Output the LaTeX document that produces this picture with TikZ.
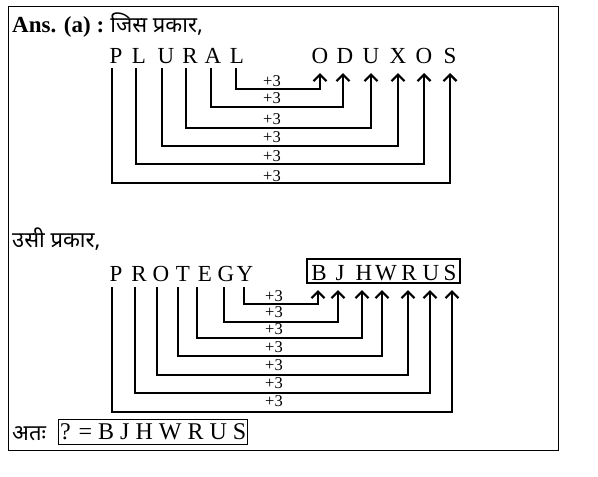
\documentclass[tikz,border=0pt]{standalone}
\usepackage{fontspec}
\setmainfont{Liberation Serif}
\newfontfamily\deva[Script=Devanagari]{Noto Sans}
\usetikzlibrary{arrows.meta}
\begin{document}
\begin{tikzpicture}[x=1pt,y=-1pt,
  conn/.style={line width=2.2pt},
  arr/.style={conn,-{Straight Barb[length=6.5pt,width=13pt]}},
  ltr/.style={inner sep=0pt,anchor=base,font=\fontsize{23}{23}\selectfont},
  lbl/.style={inner sep=0pt,font=\fontsize{16.5}{16.5}\selectfont},
  txt/.style={inner sep=0pt,anchor=base west,font=\fontsize{23}{23}\selectfont},
  dtxt/.style={inner sep=0pt,anchor=base west,font=\fontsize{22}{22}\selectfont\deva},
]
\useasboundingbox (0,0) rectangle (598,477);
\node[draw,line width=1.2pt,minimum width=550pt,minimum height=444pt,anchor=north west,inner sep=0pt] (frame) at (8,6) {};

% heading
\node[txt] (head) at (12,32) {\bfseries Ans. (a) :};
\node[dtxt,anchor=base west] (headd) at (head.base east) {\ जिस प्रकार,};

% top row
\foreach \i/\c/\x in {1/P/116,2/L/139,3/U/166,4/R/190,5/A/213,6/L/237}
  \node[ltr] (a\i) at (\x,63) {\c};
\foreach \i/\c/\x in {1/O/320,2/D/345,3/U/371,4/X/398,5/O/424,6/S/450}
  \node[ltr] (b\i) at (\x,63) {\c};
\foreach \i/\sx/\ly/\tx/\lyy in {1/112/183/450/176,2/136/164/424/156,3/162/146/398/137,4/186/128/371/119,5/211/107/343/98,6/236/89/320/81}{
  \coordinate (s\i) at (\sx,68);
  \coordinate (h\i) at (272,\ly);
  \coordinate (t\i) at (\tx,73);
  \node[lbl] (p\i) at (272,\lyy) {+3};
  \draw[arr] (s\i) |- (h\i) -| (t\i);
}

% second part
\node[dtxt] (same) at (12,247) {उसी प्रकार,};

\foreach \i/\c/\x in {1/P/116,2/R/139,3/O/161,4/T/183,5/E/205,6/G/226,7/Y/245}
  \node[ltr] (c\i) at (\x,281) {\c};
\node[draw,line width=2.4pt,minimum width=153pt,minimum height=24pt,inner sep=0pt] (ansbox) at (383.5,271) {};
\foreach \i/\c/\x in {1/B/319,2/J/340,3/H/364,4/W/386,5/R/409,6/U/431,7/S/450}
  \node[ltr] (d\i) at (\x,280.5) {\c};
\foreach \i/\sx/\ly/\tx/\lyy in {1/112/412/452/401,2/135/393/430/383,3/157/375/408/365,4/178/356/382/347,5/197/338/362/329,6/224/322/338/312,7/244/304/318/296}{
  \coordinate (u\i) at (\sx,287);
  \coordinate (k\i) at (274,\ly);
  \coordinate (v\i) at (\tx,290);
  \node[lbl] (q\i) at (274,\lyy) {+3};
  \draw[arr] (u\i) |- (k\i) -| (v\i);
}

% conclusion
\node[dtxt] (hence) at (12,440) {अतः};
\node[draw,line width=1pt,anchor=west,inner xsep=1.5pt,minimum height=25pt,font=\fontsize{24}{24}\selectfont] (final) at (58,431.5) {? = B J H W R U S};
\end{tikzpicture}
\end{document}
